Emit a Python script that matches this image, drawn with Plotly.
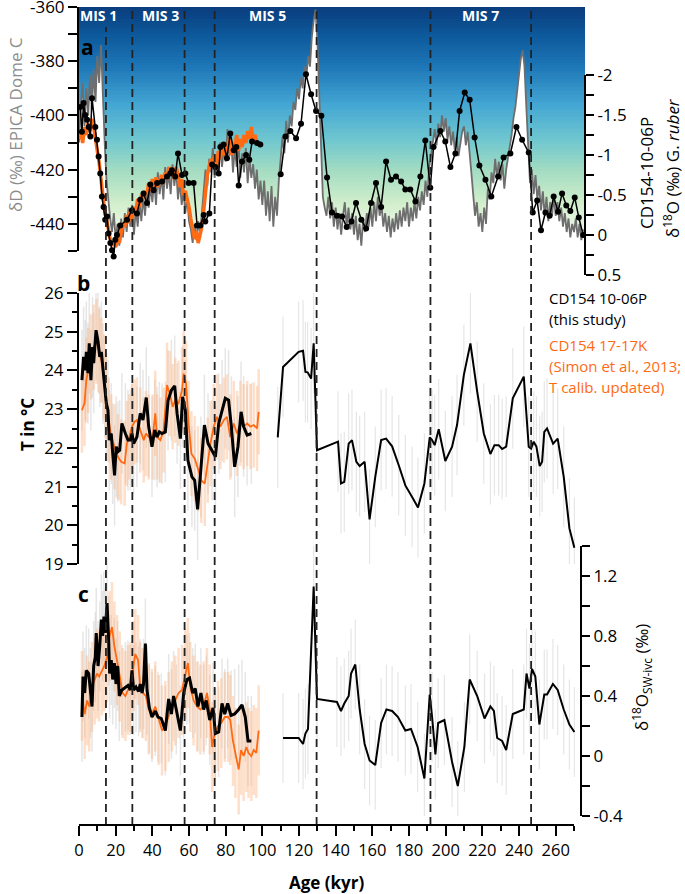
import plotly.graph_objects as go

# ---------------- data ----------------
# panel a: EPICA Dome C deltaD (permil), 1 kyr steps
edc_age = list(range(0, 276))
edc_dd = [
    -410, -396, -388, -404, -390, -400, -385, -398, -383, -395,
    -378, -388, -374, -396, -410, -424, -432, -438, -443, -436,
    -446, -440, -448, -438, -445, -436, -443, -434, -441, -433,
    -444, -434, -441, -432, -439, -430, -437, -428, -434, -426,
    -432, -424, -433, -421, -429, -422, -431, -419, -427, -421,
    -429, -418, -426, -420, -431, -424, -433, -428, -436, -430,
    -439, -442, -447, -440, -446, -439, -444, -434, -428, -420,
    -426, -416, -421, -412, -423, -415, -421, -410, -419, -412,
    -417, -405, -415, -409, -421, -412, -419, -410, -423, -414,
    -421, -412, -425, -416, -423, -418, -427, -420, -431, -424,
    -433, -424, -437, -428, -439, -426, -441, -430, -437, -424,
    -417, -408, -414, -402, -410, -400, -404, -395, -398, -390,
    -394, -386, -390, -382, -386, -378, -382, -371, -365, -361,
    -372, -392, -415, -430, -434, -437, -430, -438, -432, -441,
    -434, -442, -436, -444, -437, -432, -441, -434, -442, -436,
    -444, -437, -446, -440, -448, -438, -443, -436, -441, -434,
    -441, -432, -439, -430, -437, -433, -441, -436, -443, -437,
    -445, -438, -443, -436, -442, -435, -441, -434, -439, -432,
    -441, -434, -439, -432, -438, -430, -435, -428, -433, -424,
    -430, -419, -415, -409, -405, -411, -403, -408, -400, -406,
    -401, -409, -404, -411, -406, -413, -408, -415, -410, -406,
    -404, -411, -406, -415, -421, -429, -437, -432, -441, -436,
    -443, -434, -440, -427, -431, -421, -425, -416, -423, -417,
    -424, -418, -427, -420, -416, -412, -407, -401, -397, -391,
    -385, -379, -376, -382, -397, -413, -425, -420, -429, -422,
    -431, -426, -435, -428, -437, -430, -439, -432, -437, -430,
    -437, -432, -439, -434, -441, -436, -443, -438, -445, -440,
    -443, -438, -445, -440, -446, -442,
]

# CD154 17-17K d18O G. ruber (orange)
k17_age_a = list(range(0, 98))
k17_d18o = [
    -1.2, -1.3, -1.15, -1.35, -1.25, -1.4, -1.3, -1.45, -1.35, -1.2,
    -1.1, -0.9, -0.7, -0.5, -0.3, -0.2, -0.05, 0.05, 0.12, 0.1,
    0.15, 0.05, 0.1, -0.05, -0.15, -0.1, -0.25, -0.15, -0.3, -0.2,
    -0.35, -0.3, -0.45, -0.35, -0.5, -0.45, -0.55, -0.5, -0.65, -0.55,
    -0.7, -0.6, -0.72, -0.6, -0.68, -0.75, -0.65, -0.78, -0.7, -0.85,
    -0.75, -0.8, -0.7, -0.85, -0.75, -0.6, -0.7, -0.5, -0.55, -0.45,
    -0.35, -0.2, -0.05, 0.05, -0.05, 0.1, 0.0, -0.1, -0.3, -0.5,
    -0.75, -0.85, -0.95, -0.9, -1.0, -0.85, -1.05, -0.95, -1.1, -1.0,
    -1.15, -1.05, -1.2, -1.0, -1.15, -1.1, -1.25, -1.05, -1.2, -1.1,
    -1.25, -1.15, -1.3, -1.2, -1.35, -1.2, -1.25, -1.15,
]

# CD154 10-06P d18O G. ruber (black dots), two core sections
p06_age_a1 = [0.7, 1.6, 2.5, 3.4, 4.4, 5.3, 6.2, 7.1, 8.9, 9.8,
              10.7, 11.6, 12.5, 13.4, 14.3, 15.3, 16.1, 17.1, 18.0, 18.9,
              19.8, 20.7, 22.5, 26.2, 28.9, 31.6, 33.4, 35.2, 37.1, 38.9,
              40.7, 42.6, 45.3, 48.0, 49.8, 50.7, 52.5, 54.0, 56.2, 58.0,
              59.8, 62.5, 64.4, 66.2, 68.0, 68.9, 71.1, 72.6, 74.4, 76.2,
              77.1, 78.9, 80.7, 82.5, 84.4, 85.8, 87.1, 88.9, 91.1, 92.9,
              94.4, 97.1, 98.9]
p06_d18o_1 = [-1.60, -1.29, -1.65, -1.50, -1.44, -1.35, -1.23, -1.71, -1.35, -1.19,
              -0.98, -0.77, -0.48, -0.35, -0.19, -0.23, -0.02, 0.10, 0.19, 0.27,
              0.06, 0.00, -0.12, -0.19, -0.31, -0.27, -0.44, -0.52, -0.40, -0.63,
              -0.56, -0.65, -0.67, -0.73, -0.77, -0.81, -0.73, -1.02, -0.75, -0.77,
              -0.65, -0.65, -0.12, -0.12, -0.25, -0.17, -0.27, -0.88, -0.85, -0.77,
              -1.10, -1.13, -0.96, -1.27, -1.06, -1.10, -0.62, -0.92, -1.00, -0.94,
              -1.17, -1.15, -1.13]
p06_age_a2 = [110.0, 112.6, 115.3, 118.4, 121.1, 123.8, 126.6, 129.3, 132.2, 135.3,
              138.0, 140.7, 143.5, 146.0, 148.6, 151.1, 154.0, 156.6, 159.3, 162.0,
              164.8, 167.5, 170.2, 172.9, 175.7, 178.0, 180.7, 183.5, 186.2, 188.9,
              191.6, 193.4, 197.1, 199.8, 202.6, 205.3, 207.6, 210.4, 213.1, 215.8,
              218.4, 221.7, 224.9, 228.6, 231.6, 235.3, 238.6, 241.7, 245.3, 247.5,
              249.9, 252.0, 254.4, 256.7, 258.9, 261.3, 263.5, 265.8, 268.0, 270.4,
              272.6, 275.0]
p06_d18o_2 = [-0.76, -1.23, -1.30, -1.21, -1.39, -2.01, -1.76, -1.55, -1.49, -0.72,
              -0.28, -0.24, -0.23, -0.10, -0.17, -0.40, -0.19, -0.08, -0.40, -0.65,
              -0.35, -0.92, -0.69, -0.73, -0.67, -0.57, -0.57, -0.42, -0.73, -1.18,
              -0.59, -1.10, -1.30, -1.17, -0.85, -1.02, -1.55, -1.78, -1.69, -1.22,
              -0.87, -0.69, -0.48, -0.73, -0.97, -1.02, -1.35, -1.19, -1.03, -0.28,
              -0.43, -0.06, -0.28, -0.24, -0.48, -0.29, -0.52, -0.37, -0.30, -0.47,
              -0.22, 0.00]

# panel b: temperature (deg C)
p06_age_b1 = [1.6, 2.5, 3.4, 4.0, 4.9, 5.6, 6.5, 7.4, 8.0, 9.3,
              10.4, 11.3, 12.2, 13.1, 14.0, 14.9, 15.8, 16.5, 17.6, 18.4,
              19.4, 20.3, 21.2, 22.2, 23.4, 25.3, 26.7, 28.0, 28.9, 29.8,
              31.6, 33.4, 34.9, 36.7, 38.0, 39.8, 41.3, 42.6, 43.8, 45.3,
              47.1, 48.6, 50.4, 52.2, 53.5, 55.3, 56.5, 58.0, 59.4, 61.6,
              63.1, 64.7, 66.5, 68.4, 70.4, 72.6, 74.4, 76.2, 78.0, 79.8,
              81.6, 83.1, 84.9, 86.7, 88.4, 89.8, 91.7, 94.0]
p06_t1 = [23.75, 24.35, 24.0, 24.48, 23.93, 24.7, 23.75, 24.6, 24.19, 25.04,
          24.74, 24.35, 24.48, 23.92, 23.58, 23.15, 22.97, 22.2, 22.37, 21.85,
          21.29, 22.03, 21.9, 21.94, 22.63, 22.37, 22.2, 22.2, 22.37, 22.11,
          22.28, 22.89, 22.72, 23.3, 22.55, 22.03, 22.46, 22.28, 22.41, 22.37,
          22.41, 23.23, 23.49, 23.6, 22.89, 22.24, 23.32, 22.97, 21.68, 21.25,
          21.16, 20.41, 21.51, 22.59, 22.11, 21.94, 21.77, 22.63, 22.97, 23.28,
          23.23, 22.55, 21.51, 22.03, 22.93, 22.55, 22.33, 22.37]
p06_age_b2 = [108.4, 111.3, 119.8, 122.2, 123.5, 124.7, 126.6, 128.0, 129.8, 141.3,
              142.9, 144.7, 147.1, 148.9, 151.3, 153.1, 155.8, 158.5, 161.6, 164.8,
              167.5, 170.8, 174.4, 178.0, 181.7, 184.9, 188.4, 191.3, 192.6, 194.0,
              196.2, 199.8, 203.5, 206.2, 209.9, 213.5, 217.2, 220.8, 224.4, 226.6,
              228.9, 230.8, 233.0, 236.6, 242.6, 245.3, 246.6, 248.0, 249.5, 251.3,
              252.6, 253.8, 255.3, 258.6, 261.1, 264.4, 267.5, 270.2]
p06_t2 = [22.27, 24.09, 24.48, 24.51, 23.96, 23.95, 23.79, 24.7, 21.94, 22.16,
          21.08, 21.12, 22.11, 22.2, 21.64, 21.53, 21.64, 20.15, 21.25, 22.2,
          22.24, 22.04, 21.55, 21.03, 20.73, 20.46, 21.08, 22.27, 22.2, 22.07,
          22.48, 21.66, 22.03, 22.59, 23.88, 24.7, 23.45, 22.37, 21.84, 22.07,
          22.07, 21.97, 22.03, 23.28, 23.84, 22.03, 21.98, 22.16, 22.03, 21.53,
          21.64, 22.41, 22.5, 22.11, 22.24, 21.25, 19.92, 19.42]
k17_age_b = [1.6, 3.0, 4.0, 5.0, 6.5, 8.0, 9.5, 10.9, 12.2, 13.5,
             14.7, 16.2, 17.6, 19.4, 21.2, 23.0, 24.9, 26.1, 27.4, 28.9,
             30.3, 31.6, 33.4, 35.3, 36.5, 38.0, 40.2, 41.6, 42.6, 44.4,
             46.2, 48.0, 49.5, 51.1, 52.5, 54.3, 56.2, 57.1, 58.4, 59.8,
             61.3, 63.1, 64.9, 66.7, 68.6, 70.2, 71.7, 73.5, 75.3, 77.1,
             79.0, 80.7, 82.5, 84.4, 86.2, 88.0, 89.8, 91.7, 93.5, 95.3,
             97.1, 98.0]
k17_t = [22.97, 23.15, 23.75, 24.0, 24.35, 24.6, 24.75, 24.5, 24.26, 23.83,
         23.32, 22.72, 22.28, 22.03, 21.77, 21.64, 21.6, 22.11, 22.28, 22.55,
         22.67, 22.72, 22.46, 22.2, 22.37, 22.28, 22.28, 22.89, 22.28, 22.2,
         22.46, 23.62, 23.4, 23.06, 23.23, 23.15, 23.49, 23.92, 23.66, 22.63,
         21.85, 21.72, 21.46, 21.16, 21.08, 21.68, 22.11, 22.55, 22.8, 22.55,
         22.72, 22.8, 22.28, 22.63, 22.37, 22.63, 22.55, 22.63, 22.55, 22.59,
         22.5, 22.93]
t_err_p06 = 1.3
t_err_k17 = 1.1

# panel c: d18O seawater (ice-volume corrected)
p06_age_c1 = [1.6, 2.2, 3.1, 4.0, 5.3, 6.2, 7.1, 8.0, 8.9, 9.4,
              10.4, 11.3, 12.2, 12.9, 13.6, 14.3, 15.3, 16.2, 16.7, 17.6,
              18.4, 19.3, 20.2, 21.1, 22.0, 23.4, 25.3, 26.7, 28.0, 28.9,
              29.8, 31.1, 32.5, 33.4, 34.4, 35.2, 36.2, 37.1, 38.4, 39.8,
              41.6, 43.1, 44.9, 47.1, 48.9, 50.4, 51.6, 53.1, 55.3, 57.1,
              58.9, 60.3, 62.0, 63.4, 64.9, 66.5, 68.0, 69.4, 71.3, 73.1,
              74.4, 76.2, 78.0, 79.5, 81.1, 82.9, 84.9, 87.1, 88.9, 90.7,
              92.2, 94.0]
p06_sw1 = [0.26, 0.53, 0.42, 0.57, 0.55, 0.42, 0.33, 0.6, 0.66, 0.82,
           0.6, 0.73, 0.91, 0.8, 0.93, 0.82, 1.02, 0.77, 0.55, 0.64,
           0.51, 0.62, 0.48, 0.6, 0.4, 0.44, 0.46, 0.47, 0.44, 0.57,
           0.44, 0.46, 0.43, 0.48, 0.42, 0.48, 0.75, 0.44, 0.32, 0.26,
           0.3, 0.26, 0.25, 0.17, 0.38, 0.28, 0.4, 0.31, 0.17, 0.42,
           0.51, 0.52, 0.42, 0.45, 0.33, 0.42, 0.31, 0.37, 0.24, 0.32,
           0.15, 0.16, 0.35, 0.28, 0.35, 0.27, 0.28, 0.31, 0.34, 0.26,
           0.1, 0.1]
p06_age_c2 = [111.3, 119.8, 122.2, 123.5, 124.9, 128.0, 129.8, 140.7, 142.9, 144.7,
              147.1, 148.4, 150.7, 153.1, 155.8, 158.5, 161.6, 164.8, 167.7, 170.8,
              174.0, 178.0, 181.1, 184.7, 188.4, 191.3, 192.6, 194.4, 195.9, 199.3,
              203.5, 206.6, 210.2, 213.1, 217.2, 221.2, 224.4, 226.3, 228.1, 230.8,
              233.0, 236.6, 242.6, 244.1, 245.7, 247.1, 248.9, 251.1, 253.8, 255.3,
              258.5, 261.1, 264.4, 267.5, 270.2]
p06_sw2 = [0.12, 0.12, 0.08, 0.15, 0.18, 1.13, 0.38, 0.36, 0.3, 0.35,
           0.4, 0.55, 0.61, 0.31, 0.08, -0.03, -0.06, 0.22, 0.31, 0.3,
           0.26, 0.17, 0.18, 0.06, -0.15, 0.41, 0.26, 0.01, 0.22, 0.24,
           -0.04, -0.2, 0.06, 0.51, 0.4, 0.25, 0.33, 0.3, 0.12, 0.1,
           0.04, 0.28, 0.31, 0.55, 0.45, 0.58, 0.53, 0.21, 0.41, 0.41,
           0.48, 0.44, 0.31, 0.21, 0.16]
k17_age_c = [1.6, 3.1, 4.4, 5.6, 7.1, 8.5, 9.8, 11.0, 12.5, 13.8,
             15.3, 16.7, 18.0, 19.3, 20.7, 22.2, 23.8, 25.3, 26.7, 28.0,
             29.8, 30.7, 32.2, 33.4, 34.9, 36.5, 38.0, 39.8, 41.6, 43.5,
             45.3, 47.1, 48.9, 50.7, 52.5, 54.3, 56.2, 58.0, 59.4, 60.7,
             62.5, 64.4, 66.2, 68.0, 69.8, 71.3, 72.6, 74.0, 75.8, 77.6,
             79.5, 81.3, 82.5, 84.0, 85.3, 87.1, 88.4, 89.8, 91.3, 92.5,
             94.0, 95.3, 96.7, 98.0]
k17_sw = [0.4, 0.28, 0.37, 0.33, 0.46, 0.51, 0.55, 0.53, 0.57, 0.6,
          0.66, 0.8, 0.86, 0.73, 0.64, 0.53, 0.42, 0.4, 0.44, 0.46,
          0.6, 0.68, 0.64, 0.46, 0.42, 0.4, 0.31, 0.28, 0.33, 0.24,
          0.17, 0.2, 0.26, 0.33, 0.37, 0.42, 0.44, 0.55, 0.62, 0.46,
          0.37, 0.33, 0.31, 0.33, 0.42, 0.31, 0.06, 0.15, 0.2, 0.22,
          0.26, 0.26, 0.24, 0.1, 0.02, -0.09, 0.04, 0.0, 0.06, 0.02,
          0.0, 0.04, 0.02, 0.17]
sw_err = 0.3

# MIS boundaries and labels
mis_bounds = [14.7, 29.1, 57.6, 74.0, 129.6, 191.7, 246.6]
mis_labels = ["MIS 1", "MIS 3", "MIS 5", "MIS 7"]
mis_label_age = [10.4, 44.2, 103.0, 218.8]

# tick labels
age_ticks = list(range(0, 261, 20))
dd_ticks = [-440, -420, -400, -380, -360]
d18o_ticks = [-2, -1.5, -1, -0.5, 0, 0.5]
d18o_text = ["-2", "-1.5", "-1", "-0.5", "0", "0.5"]
t_ticks = [19, 20, 21, 22, 23, 24, 25, 26]
sw_ticks = [-0.4, 0, 0.4, 0.8, 1.2]
sw_text = ["-0.4", "0", "0.4", "0.8", "1.2"]

# ---------------- figure ----------------
FONT = "Open Sans"
ORANGE = "#ff6a13"
ORANGE_ERR = "rgba(252,178,128,0.42)"
GRAY_ERR = "rgba(200,200,200,0.45)"

W, H = 685, 894
L, R, T, B = 79, 100, 7, 69
PW, PH = W - L - R, H - T - B


def px(x):
    return (x - L) / PW


def py(y):
    return (H - B - y) / PH


gradient = [[0.0, "#ffffff"], [0.08, "#eef8e8"], [0.2, "#d0eecb"], [0.33, "#a3dcc2"],
            [0.46, "#6ec6d0"], [0.6, "#43a6d3"], [0.75, "#1f78b8"], [0.88, "#0d5a9c"],
            [1.0, "#0a3c7d"]]
grad_rows = list(range(-450, -359))

fig = go.Figure()
fig.add_trace(go.Heatmap(x=[0, 276], y=grad_rows, z=[[v, v] for v in grad_rows],
                         colorscale=gradient, showscale=False, hoverinfo="skip",
                         xaxis="x", yaxis="y"))
fig.add_trace(go.Scatter(x=[0, 276], y=[-450, -450], mode="lines", line=dict(width=0),
                         hoverinfo="skip", xaxis="x", yaxis="y"))
fig.add_trace(go.Scatter(x=edc_age, y=edc_dd, mode="lines", fill="tonexty", fillcolor="white",
                         line=dict(color="#6e6e6e", width=1.8), xaxis="x", yaxis="y"))
fig.add_trace(go.Scatter(x=k17_age_a, y=k17_d18o, mode="lines",
                         line=dict(color=ORANGE, width=3.5), xaxis="x", yaxis="y2"))
fig.add_trace(go.Scatter(x=p06_age_a1 + [None] + p06_age_a2, y=p06_d18o_1 + [None] + p06_d18o_2,
                         mode="lines+markers", line=dict(color="black", width=1.5),
                         marker=dict(color="black", size=6), xaxis="x", yaxis="y2"))


def err_only(x, y, yax, err, color, thick):
    return go.Scatter(x=x, y=y, mode="lines", line=dict(width=0), hoverinfo="skip",
                      error_y=dict(type="constant", value=err, color=color,
                                   thickness=thick, width=0),
                      xaxis="x", yaxis=yax)


# panel b
fig.add_trace(err_only(p06_age_b1, p06_t1, "y3", t_err_p06, GRAY_ERR, 1.5))
fig.add_trace(err_only(p06_age_b2, p06_t2, "y3", t_err_p06, GRAY_ERR, 1.2))
fig.add_trace(err_only(k17_age_b, k17_t, "y3", t_err_k17, ORANGE_ERR, 2.5))
fig.add_trace(go.Scatter(x=k17_age_b, y=k17_t, mode="lines", line=dict(color=ORANGE, width=1.8),
                         xaxis="x", yaxis="y3"))
fig.add_trace(go.Scatter(x=p06_age_b1, y=p06_t1, mode="lines", line=dict(color="black", width=3),
                         xaxis="x", yaxis="y3"))
fig.add_trace(go.Scatter(x=p06_age_b2, y=p06_t2, mode="lines", line=dict(color="black", width=2),
                         xaxis="x", yaxis="y3"))

# panel c
fig.add_trace(err_only(p06_age_c1, p06_sw1, "y4", sw_err, GRAY_ERR, 1.5))
fig.add_trace(err_only(p06_age_c2, p06_sw2, "y4", sw_err, GRAY_ERR, 1.2))
fig.add_trace(err_only(k17_age_c, k17_sw, "y4", sw_err, ORANGE_ERR, 2.5))
fig.add_trace(go.Scatter(x=k17_age_c, y=k17_sw, mode="lines", line=dict(color=ORANGE, width=1.8),
                         xaxis="x", yaxis="y4"))
fig.add_trace(go.Scatter(x=p06_age_c1, y=p06_sw1, mode="lines", line=dict(color="black", width=3),
                         xaxis="x", yaxis="y4"))
fig.add_trace(go.Scatter(x=p06_age_c2, y=p06_sw2, mode="lines", line=dict(color="black", width=2),
                         xaxis="x", yaxis="y4"))

tickfont = dict(family=FONT, size=17, color="black")
axis_common = dict(showgrid=False, zeroline=False, ticks="outside", tickwidth=2,
                   tickcolor="black", tickfont=tickfont, linecolor="black", linewidth=2,
                   automargin=False, ticklabeloverflow="allow")

shapes = []
for i, b in enumerate(mis_bounds):
    shapes.append(dict(type="line", xref="x", yref="paper", x0=b, x1=b, y0=0,
                       y1=py(27) if i == 0 else 1.0,
                       line=dict(color="#222222", width=1.8, dash="8px,5px")))
shapes.append(dict(type="line", xref="x", yref="paper", x0=0, x1=270, y0=0, y1=0,
                   line=dict(color="black", width=2)))
shapes.append(dict(type="line", xref="paper", yref="y2", x0=1, x1=1, y0=-2, y1=0.5,
                   line=dict(color="black", width=2)))

ann = []
for lab, a in zip(mis_labels, mis_label_age):
    ann.append(dict(x=a, y=py(16), xref="x", yref="paper", text="<b>" + lab + "</b>",
                    font=dict(family=FONT, size=14, color="white")))
for lab, x, y in [("a", 87, 47), ("b", 83, 283), ("c", 83, 594)]:
    ann.append(dict(x=px(x), y=py(y), text="<b>" + lab + "</b>",
                    font=dict(family=FONT, size=21, color="black")))
ann += [
    dict(x=px(15), y=py(125), text="δD (‰) EPICA Dome C", textangle=-90,
         font=dict(family=FONT, size=17, color="#8c8c8c")),
    dict(x=px(646), y=py(173), text="CD154-10-06P", textangle=-90,
         font=dict(family=FONT, size=17, color="black")),
    dict(x=px(671), y=py(168), text="δ<sup>18</sup>O (‰) G. <i>ruber</i>", textangle=-90,
         font=dict(family=FONT, size=17, color="black")),
    dict(x=px(27), y=py(425), text="<b>T in °C</b>", textangle=-90,
         font=dict(family=FONT, size=17, color="black")),
    dict(x=px(641), y=py(678), text="δ<sup>18</sup>O<sub>SW-ivc</sub> (‰)", textangle=-90,
         font=dict(family=FONT, size=17, color="black")),
    dict(x=px(326), y=py(882), text="<b>Age (kyr)</b>",
         font=dict(family=FONT, size=17, color="black")),
]
for txt, y, col in [("CD154 10-06P", 298, "black"), ("(this study)", 319, "black"),
                    ("CD154 17-17K", 345, ORANGE), ("(Simon et al., 2013;", 366, ORANGE),
                    ("T calib. updated)", 387, ORANGE)]:
    ann.append(dict(x=px(547), y=py(y), text=txt, xanchor="left",
                    font=dict(family=FONT, size=15, color=col)))
for a_ in ann:
    a_.setdefault("xref", "paper")
    a_.setdefault("yref", "paper")
    a_.setdefault("xanchor", "center")
    a_.setdefault("yanchor", "middle")
    a_.setdefault("showarrow", False)

fig.update_layout(
    width=W, height=H, margin=dict(l=L, r=R, t=T, b=B, autoexpand=False),
    paper_bgcolor="white", plot_bgcolor="rgba(0,0,0,0)",
    showlegend=False, font=dict(family=FONT),
    xaxis=dict(range=[0, 276], anchor="free", position=0, showline=False,
               tickmode="array", tickvals=age_ticks, ticktext=[str(v) for v in age_ticks],
               ticklen=10,
               minor=dict(tickmode="array", tickvals=list(range(10, 271, 20)), ticks="outside",
                          ticklen=5, tickwidth=2, tickcolor="black"),
               **{**axis_common, "tickfont": dict(family=FONT, size=16.5, color="black")}),
    yaxis=dict(domain=[py(251), 1.0], range=[-450, -360], anchor="x", side="left",
               showline=True, tickmode="array", tickvals=dd_ticks,
               ticktext=[str(v) for v in dd_ticks], ticklen=9,
               minor=dict(tickmode="array", tickvals=[-450, -430, -410, -390, -370],
                          ticks="outside", ticklen=9, tickwidth=2, tickcolor="black"),
               **axis_common),
    yaxis2=dict(domain=[py(275), 1.0], range=[0.5, -2.85], anchor="x", side="right",
                showline=False, tickmode="array", tickvals=d18o_ticks, ticktext=d18o_text,
                ticklen=8,
                minor=dict(tickmode="array", tickvals=[-1.75, -1.25, -0.75, -0.25, 0.25],
                           ticks="outside", ticklen=8, tickwidth=2, tickcolor="black"),
                **axis_common),
    yaxis3=dict(domain=[py(564), py(293)], range=[19, 26], anchor="x", side="left",
                showline=True, tickmode="array", tickvals=t_ticks,
                ticktext=[str(v) for v in t_ticks], ticklen=10,
                minor=dict(tickmode="array", tickvals=[19.5, 20.5, 21.5, 22.5, 23.5, 24.5, 25.5],
                           ticks="outside", ticklen=5, tickwidth=2, tickcolor="black"),
                **axis_common),
    yaxis4=dict(domain=[py(816), py(546)], range=[-0.4, 1.4], anchor="free",
                position=px(581), side="right", showline=True, tickmode="array",
                tickvals=sw_ticks, ticktext=sw_text, ticklen=8,
                minor=dict(tickmode="array", tickvals=[-0.2, 0.2, 0.6, 1.0, 1.4],
                           ticks="outside", ticklen=8, tickwidth=2, tickcolor="black"),
                **axis_common),
    shapes=shapes, annotations=ann,
)

# the page body has a default 8px margin; remove it so the figure sits at the origin
fig.write_html("out.html", config={"displayModeBar": False},
               post_script="document.body.style.margin='0px';")
